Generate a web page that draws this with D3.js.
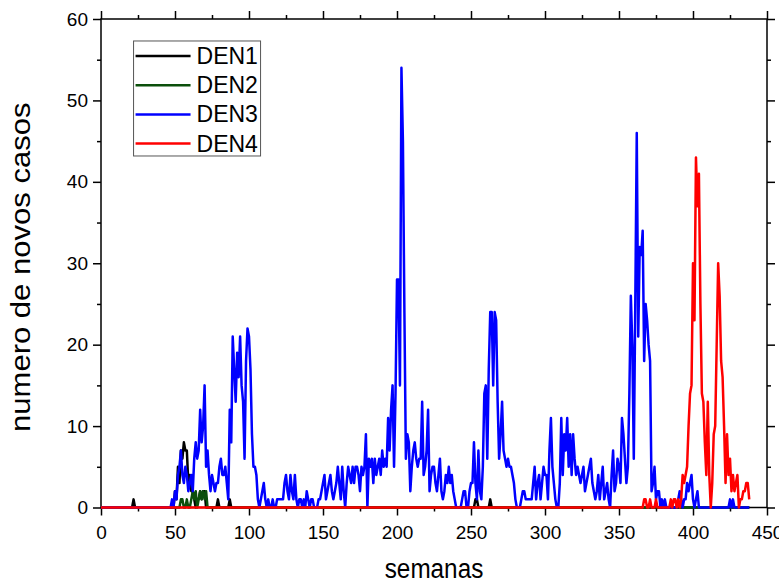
<!DOCTYPE html>
<html>
<head>
<meta charset="utf-8">
<script src="https://cdn.jsdelivr.net/npm/d3@7"></script>
<style>
  body { margin: 0; background: #fff; }
  text { font-family: Arial, "Liberation Sans", sans-serif; fill: #000; }
</style>
</head>
<body>
<div id="chart"></div>
<script>
/* tick labels and series names */
var xTicks = [0, 50, 100, 150, 200, 250, 300, 350, 400, 450],
    yTicks = [0, 10, 20, 30, 40, 50, 60],
    seriesNames = ["DEN1", "DEN2", "DEN3", "DEN4"];

/* weekly new cases, week 0 .. 438 (20 weeks per row) */
var den1 = [
  0,0,0,0,0,0,0,0,0,0,0,0,0,0,0,0,0,0,0,0,
  0,0,1,0,0,0,0,0,0,0,0,0,0,0,0,0,0,0,0,0,
  0,0,0,0,0,0,0,0,0,0,2,1,5,3,7,6,8,7,7,3,
  4,2,2,1,0,1,1,2,1,2,2,0,0,0,0,0,0,0,0,1,
  0,0,0,0,0,0,0,1,0,0,0,0,0,0,0,0,0,0,0,0,
  0,0,0,0,0,0,0,0,0,0,0,0,0,0,0,0,0,0,0,0,
  0,0,0,0,0,0,0,0,0,0,0,0,0,0,0,0,0,0,0,0,
  0,0,0,0,0,0,0,0,0,0,0,0,0,0,0,0,0,0,0,0,
  0,0,0,0,0,0,0,0,0,0,0,0,0,0,0,0,0,0,0,0,
  0,0,0,0,0,0,0,0,0,0,0,0,0,0,0,0,0,0,0,0,
  0,0,0,0,0,0,0,0,0,0,0,0,0,0,0,0,0,0,0,0,
  0,0,0,0,0,0,0,0,0,0,0,0,0,0,0,0,0,0,0,0,
  0,0,0,0,0,0,0,0,0,0,0,0,0,1,1,0,0,0,0,0,
  0,0,0,1,0,0,0,0,0,0,0,0,0,0,0,0,0,0,0,0,
  0,0,0,0,0,0,0,0,0,0,0,0,0,0,0,0,0,0,0,0,
  0,0,0,0,0,0,0,0,0,0,0,0,0,0,0,0,0,0,0,0,
  0,0,0,0,0,0,0,0,0,0,0,0,0,0,0,0,0,0,0,0,
  0,0,0,0,0,0,0,0,0,0,0,0,0,0,0,0,0,0,0,0,
  0,0,0,0,0,0,0,0,0,0,0,0,0,0,0,0,0,0,0,0,
  0,0,0,0,0,0,0,0,0,0,0,0,0,0,0,0,0,0,0,0,
  0,0,0,0,0,0,0,0,0,0,0,0,0,0,0,0,0,0,0,0,
  0,0,0,0,0,0,0,0,0,0,0,0,0,0,0,0,0,0,0
];

var den2 = [
  0,0,0,0,0,0,0,0,0,0,0,0,0,0,0,0,0,0,0,0,
  0,0,0,0,0,0,0,0,0,0,0,0,0,0,0,0,0,0,0,0,
  0,0,0,0,0,0,0,0,0,0,0,0,0,0,1,1,0,0,1,0,
  0,1,2,1,2,0,1,2,1,2,1,2,0,0,0,0,0,0,0,0,
  0,0,0,0,0,0,0,0,0,0,0,0,0,0,0,0,0,0,0,0,
  0,0,0,0,0,0,0,0,0,0,0,0,0,0,0,0,0,0,0,0,
  0,0,0,0,0,0,0,0,0,0,0,0,0,0,0,0,0,0,0,0,
  0,0,0,0,0,0,0,0,0,0,0,0,0,0,0,0,0,0,0,0,
  0,0,0,0,0,0,0,0,0,0,0,0,0,0,0,0,0,0,0,0,
  0,0,0,0,0,0,0,0,0,0,0,0,0,0,0,0,0,0,0,0,
  0,0,0,0,0,0,0,0,0,0,0,0,0,0,0,0,0,0,0,0,
  0,0,0,0,0,0,0,0,0,0,0,0,0,0,0,0,0,0,0,0,
  0,0,0,0,0,0,0,0,0,0,0,0,0,0,0,0,0,0,0,0,
  0,0,0,0,0,0,0,0,0,0,0,0,0,0,0,0,0,0,0,0,
  0,0,0,0,0,0,0,0,0,0,0,0,0,0,0,0,0,0,0,0,
  0,0,0,0,0,0,0,0,0,0,0,0,0,0,0,0,0,0,0,0,
  0,0,0,0,0,0,0,0,0,0,0,0,0,0,0,0,0,0,0,0,
  0,0,0,0,0,0,0,0,0,0,0,0,0,0,0,0,0,0,0,0,
  0,0,0,0,0,0,0,0,0,0,0,0,0,0,0,0,0,0,0,0,
  0,0,0,0,0,0,0,0,0,0,0,0,0,0,0,0,0,0,0,0,
  0,0,0,0,0,0,0,0,0,0,0,0,0,0,0,0,0,0,0,0,
  0,0,0,0,0,0,0,0,0,0,0,0,0,0,0,0,0,0,0
];

var den3 = [
  0,0,0,0,0,0,0,0,0,0,0,0,0,0,0,0,0,0,0,0,
  0,0,0,0,0,0,0,0,0,0,0,0,0,0,0,0,0,0,0,0,
  0,0,0,0,0,0,0,0,1,0,2,1,4,5,7,4,3,5,4,2,
  3,4,2,6,8,6,7,12,8,10,15,5,7,4,2,4,3,2,3,3,
  5,6,4,4,5,3,1,12,8,21,17,13,19,16,21,15,13,6,18,22,
  21,17,9,5,5,4,1,0,1,2,3,1,0,1,0,0,1,0,0,1,
  1,1,1,1,3,4,2,1,4,2,1,4,1,0,1,1,0,1,0,2,
  1,0,1,1,0,0,0,1,1,2,3,4,1,2,3,4,2,1,2,3,
  5,3,1,5,2,0,3,5,4,3,5,3,5,5,4,2,5,4,5,9,
  0,6,5,6,3,6,4,5,6,4,7,5,6,5,11,7,12,15,5,14,
  28,28,15,54,45,24,6,9,8,2,5,7,8,6,5,6,6,13,4,5,
  7,12,2,4,5,5,3,2,4,6,2,1,2,4,3,5,3,4,2,1,
  0,0,0,0,1,2,2,0,0,2,3,3,8,3,1,7,2,1,5,14,
  15,6,17,24,24,15,24,23,13,6,9,13,7,6,5,6,5,5,4,3,
  1,0,0,0,1,2,2,1,1,1,1,1,3,5,1,3,4,1,3,5,
  4,4,1,7,11,5,3,1,0,0,3,11,4,9,7,11,5,9,4,9,
  6,4,5,4,3,4,5,2,3,4,5,6,3,2,1,2,4,1,3,5,
  1,2,3,1,0,4,7,2,3,6,5,3,11,9,6,3,5,14,26,20,
  6,25,46,21,32,31,34,18,25,23,20,18,2,3,5,1,2,2,0,1,
  0,1,0,0,0,0,0,0,0,0,1,2,1,0,1,1,3,2,3,4,
  1,0,1,2,0,0,0,0,0,0,0,0,0,0,0,0,0,0,0,0,
  0,0,0,0,0,1,0,1,0,0,0,0,0,0,0,0,0,0,0
];

var den4 = [
  0,0,0,0,0,0,0,0,0,0,0,0,0,0,0,0,0,0,0,0,
  0,0,0,0,0,0,0,0,0,0,0,0,0,0,0,0,0,0,0,0,
  0,0,0,0,0,0,0,0,0,0,0,0,0,0,0,0,0,0,0,0,
  0,0,0,0,0,0,0,0,0,0,0,0,0,0,0,0,0,0,0,0,
  0,0,0,0,0,0,0,0,0,0,0,0,0,0,0,0,0,0,0,0,
  0,0,0,0,0,0,0,0,0,0,0,0,0,0,0,0,0,0,0,0,
  0,0,0,0,0,0,0,0,0,0,0,0,0,0,0,0,0,0,0,0,
  0,0,0,0,0,0,0,0,0,0,0,0,0,0,0,0,0,0,0,0,
  0,0,0,0,0,0,0,0,0,0,0,0,0,0,0,0,0,0,0,0,
  0,0,0,0,0,0,0,0,0,0,0,0,0,0,0,0,0,0,0,0,
  0,0,0,0,0,0,0,0,0,0,0,0,0,0,0,0,0,0,0,0,
  0,0,0,0,0,0,0,0,0,0,0,0,0,0,0,0,0,0,0,0,
  0,0,0,0,0,0,0,0,0,0,0,0,0,0,0,0,0,0,0,0,
  0,0,0,0,0,0,0,0,0,0,0,0,0,0,0,0,0,0,0,0,
  0,0,0,0,0,0,0,0,0,0,0,0,0,0,0,0,0,0,0,0,
  0,0,0,0,0,0,0,0,0,0,0,0,0,0,0,0,0,0,0,0,
  0,0,0,0,0,0,0,0,0,0,0,0,0,0,0,0,0,0,0,0,
  0,0,0,0,0,0,0,0,0,0,0,0,0,0,0,0,0,0,0,0,
  0,0,0,0,0,0,0,1,1,0,0,1,0,0,0,1,0,0,0,0,
  0,0,0,0,0,1,0,1,1,0,1,0,1,4,3,4,5,10,14,15,
  30,23,43,37,41,25,14,13,8,4,13,4,0,3,9,10,20,30,26,18,
  16,10,3,9,4,6,2,4,2,3,4,0,1,1,2,2,3,3,1
];

var seriesValues = [den1, den2, den3, den4],
    colors = ["#000000", "#0b4f0b", "#0000ff", "#ff0000"];

/* layout */
var width = 779, height = 583,
    margin = {top: 19, right: 12, bottom: 75.5, left: 101},
    plotW = width - margin.left - margin.right,
    plotH = height - margin.top - margin.bottom;

var x = d3.scaleLinear().domain([0, 450]).range([0, plotW]),
    y = d3.scaleLinear().domain([0, 60]).range([plotH, 0]);

var svg = d3.select("#chart")
            .append("svg")
            .attr("width", width)
            .attr("height", height);

var chart = svg.append("g")
               .attr("transform", "translate(" + margin.left + "," + margin.top + ")");

/* minor tick positions halfway between majors */
var xMinor = xTicks.slice(0, -1).map(function(d) { return d + 25; }),
    yMinor = yTicks.slice(0, -1).map(function(d) { return d + 5; });

function styleAxis(g) {
    g.select(".domain").remove();
    g.selectAll("line").attr("stroke", "#000").attr("stroke-width", 1.5);
    g.selectAll("text").attr("font-size", 19).attr("font-family", "Arial, 'Liberation Sans', sans-serif");
}

/* bottom axis */
chart.append("g")
        .attr("transform", "translate(0," + plotH + ")")
        .call(d3.axisBottom(x).tickValues(xTicks).tickSize(8).tickPadding(10))
        .call(styleAxis);
chart.append("g")
        .attr("transform", "translate(0," + plotH + ")")
        .call(d3.axisBottom(x).tickValues(xMinor).tickSize(4).tickFormat(""))
        .call(styleAxis);

/* top axis, ticks only */
chart.append("g")
        .call(d3.axisTop(x).tickValues(xTicks).tickSize(8).tickFormat(""))
        .call(styleAxis);
chart.append("g")
        .call(d3.axisTop(x).tickValues(xMinor).tickSize(4).tickFormat(""))
        .call(styleAxis);

/* left axis */
chart.append("g")
        .call(d3.axisLeft(y).tickValues(yTicks).tickSize(8).tickPadding(5))
        .call(styleAxis);
chart.append("g")
        .call(d3.axisLeft(y).tickValues(yMinor).tickSize(4).tickFormat(""))
        .call(styleAxis);

/* right axis, ticks only */
chart.append("g")
        .attr("transform", "translate(" + plotW + ",0)")
        .call(d3.axisRight(y).tickValues(yTicks).tickSize(8).tickFormat(""))
        .call(styleAxis);
chart.append("g")
        .attr("transform", "translate(" + plotW + ",0)")
        .call(d3.axisRight(y).tickValues(yMinor).tickSize(4).tickFormat(""))
        .call(styleAxis);

/* plot frame */
chart.append("rect")
        .attr("width", plotW)
        .attr("height", plotH)
        .attr("fill", "none")
        .attr("stroke", "#000")
        .attr("stroke-width", 1.5);

/* series lines */
var line = d3.line()
    .x(function(d, i) { return x(i); })
    .y(function(d) { return y(d); });

chart.append("g")
        .selectAll("path")
        .data(seriesValues)
        .enter().append("path")
            .attr("d", line)
            .attr("fill", "none")
            .attr("stroke", function(d, i) { return colors[i]; })
            .attr("stroke-width", 2.5)
            .attr("stroke-linejoin", "round");

/* axis labels */
chart.append("text")
        .attr("transform", "translate(" + (plotW / 2) + "," + (plotH + 70) + ")scale(0.9,1)")
        .attr("text-anchor", "middle")
        .attr("font-size", 27)
        .text("semanas");

chart.append("text")
        .attr("transform", "translate(" + (-71) + "," + (plotH / 2 + 4) + ")rotate(-90)scale(1.15,1)")
        .attr("text-anchor", "middle")
        .attr("font-size", 27)
        .text("numero de novos casos");

/* legend */
var legend = chart.append("g")
                .attr("transform", "translate(" + (x(22) ) + "," + (y(57.3)) + ")");

legend.append("rect")
        .attr("width", 127)
        .attr("height", 115)
        .attr("fill", "#fff")
        .attr("stroke", "#555")
        .attr("stroke-width", 1);

var item = legend.selectAll(".item")
                .data(seriesNames)
                .enter().append("g")
                    .attr("class", "item")
                    .attr("transform", function(d, i) { return "translate(0," + (15 + i * 29.2) + ")"; });

item.append("line")
        .attr("x1", 2)
        .attr("x2", 57)
        .attr("stroke", function(d, i) { return colors[i]; })
        .attr("stroke-width", 2.5);

item.append("text")
        .attr("x", 63)
        .attr("y", 8)
        .attr("font-size", 23)
        .text(function(d) { return d; });
</script>
</body>
</html>
